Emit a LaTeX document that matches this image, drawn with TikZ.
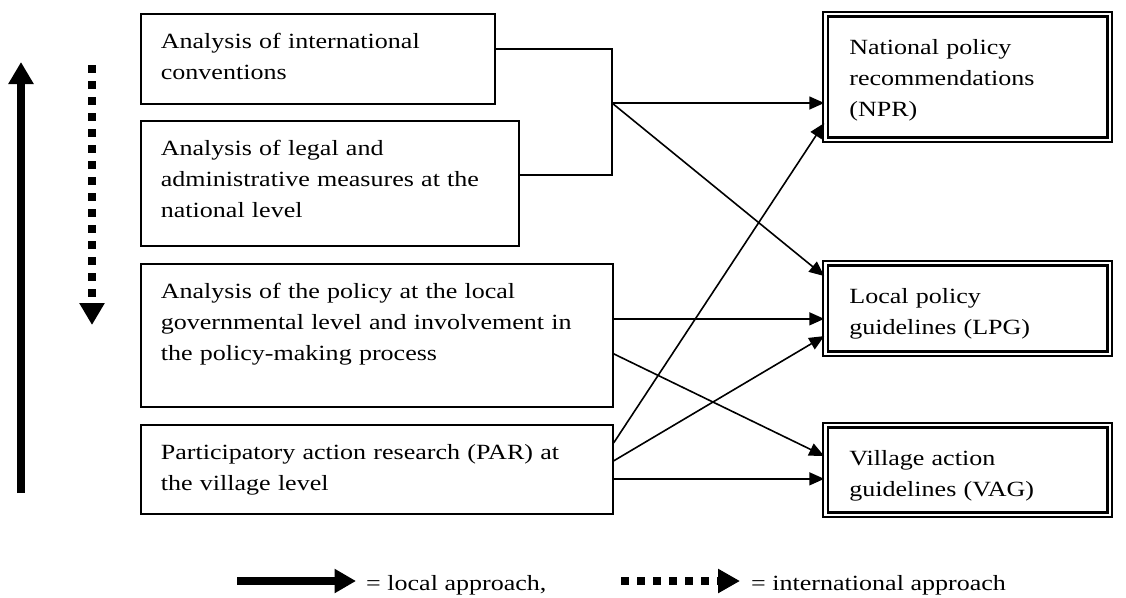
\documentclass[tikz,border=0pt]{standalone}
\usepackage{fontspec}
\setmainfont[FakeStretch=1.2]{Liberation Serif}
\usetikzlibrary{arrows.meta}

\begin{document}
\begin{tikzpicture}[
  x=1pt, y=-1pt,
  font=\fontsize{21.7}{31}\selectfont,
  lbox/.style={rectangle, draw=black, line width=1.7pt, anchor=north west,
               align=left, inner xsep=20pt, inner ysep=0pt, text height=35pt},
  dbox/.style={rectangle, draw=black, double, line width=2.2pt, double distance=2.4pt,
               anchor=north west, align=left, inner xsep=24pt, inner ysep=0pt,
               text height=40pt, text width=236.5pt},
  conn/.style={line width=1.6pt},
  arr/.style={-{Triangle[length=15pt, width=13pt]}, line width=1.6pt},
  bigarr/.style={-{Triangle[length=22pt, width=24pt]}, line width=8pt},
  dotarr/.style={bigarr, dash pattern=on 7.7pt off 8.3pt},
  legtext/.style={anchor=base west, inner sep=0pt}
]
  \useasboundingbox (0,0) rectangle (1126,597);

  %% ── Left column: the four analyses ──────────────────────────────
  \node[lbox, text width=314pt, text depth=55pt] (conv) at (140,13)
    {Analysis of international\\conventions};
  \node[lbox, text width=338pt, text depth=90pt] (legal) at (140,120)
    {Analysis of legal and\\administrative measures at the\\national level};
  \node[lbox, text width=432pt, text depth=108pt] (local) at (140,263)
    {Analysis of the policy at the local\\governmental level and involvement in\\the policy-making process};
  \node[lbox, text width=432pt, text depth=54pt] (par) at (140,424)
    {Participatory action research (PAR) at\\the village level};

  %% ── Right column: outputs (double frame) ────────────────────────
  \node[dbox, text depth=85.75pt] (npr) at (824.25,13)  {National policy\\recommendations\\(NPR)};
  \node[dbox, text depth=50.75pt] (lpg) at (824.25,262) {Local policy\\guidelines (LPG)};
  \node[dbox, text depth=49.75pt] (vag) at (824.25,424) {Village action\\guidelines (VAG)};

  %% ── Bracket joining the two upper boxes ─────────────────────────
  \coordinate (jn) at (612,103);
  \draw[conn] (conv.base east) -| (jn) |- ([yshift=8.5pt]legal.east);

  %% ── Arrows ──────────────────────────────────────────────────────
  \draw[arr] (jn) -- (jn -| npr.west);
  \draw[arr] (jn) -- ([yshift=32.4pt]lpg.west);

  \coordinate (l1) at ([yshift=16.5pt]local.east);
  \draw[arr] (l1) -- (l1 -| lpg.west);
  \draw[arr] ([yshift=-18.5pt]local.east) -- ([yshift=13.9pt]vag.west);

  \draw[arr] ([yshift=26.5pt]par.east) -- ([yshift=-46.1pt]npr.west);
  \draw[arr] ([yshift=8.5pt]par.east)  -- ([yshift=-27.6pt]lpg.west);
  \coordinate (p1) at ([yshift=-9.5pt]par.east);
  \draw[arr] (p1) -- (p1 -| vag.west);

  %% ── Direction arrows on the left ────────────────────────────────
  \coordinate (upS) at (21,493);
  \coordinate (upE) at (21,62);
  \draw[bigarr] (upS) -- (upE);
  \coordinate (dnS) at (92,65);
  \coordinate (dnE) at (92,325);
  \draw[dotarr] (dnS) -- (dnE);

  %% ── Legend ──────────────────────────────────────────────────────
  \coordinate (lgA) at (237,581);
  \coordinate (lgB) at (356,581);
  \draw[bigarr, -{Triangle[length=21.5pt, width=23pt]}] (lgA) -- (lgB);
  \node[legtext] (lgloc) at (366,590) {= local approach,};
  \coordinate (lgC) at (621,581);
  \coordinate (lgD) at (740,581);
  \draw[dotarr, -{Triangle[length=22pt, width=23pt]}] (lgC) -- (lgD);
  \node[legtext] (lgint) at (751,590) {= international approach};
\end{tikzpicture}
\end{document}
